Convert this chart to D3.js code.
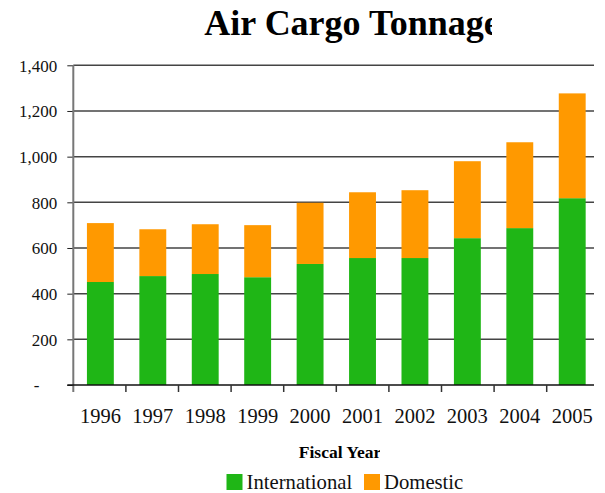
<!DOCTYPE html>
<html><head><meta charset="utf-8">
<script src="https://cdn.jsdelivr.net/npm/d3@7"></script>
<style>body{margin:0;background:#fff}</style>
</head><body>
<svg id="c" width="605" height="493"></svg>
<script>
const years = ["1996","1997","1998","1999","2000","2001","2002","2003","2004","2005"];
const international = [451, 477, 486, 472, 530, 556, 556, 643, 687, 818];
const domestic = [258, 205, 218, 228, 268, 288, 297, 337, 376, 459];
const yTicks = [0, 200, 400, 600, 800, 1000, 1200, 1400];
const seriesNames = ["International", "Domestic"];
const colors = ["#1FB616", "#FF9900"];

const svg = d3.select("#c");
const font = "'Liberation Serif','Times New Roman',serif";
const L = 73.3, T = 65.3, B = 385, gridR = 594;
const x = d3.scaleBand().domain(years).range([L, L + 52.6 * 10]).paddingInner(0.487).paddingOuter(0.26);
const y = d3.scaleLinear().domain([0, 1400]).range([B, T]);

const defs = svg.append("defs");
defs.append("clipPath").attr("id", "tclip").append("rect").attr("x", 0).attr("y", 0).attr("width", 492).attr("height", 60);
defs.append("clipPath").attr("id", "fclip").append("rect").attr("x", 0).attr("y", 430).attr("width", 380).attr("height", 40);

svg.append("text").attr("clip-path", "url(#tclip)")
  .attr("x", 352).attr("y", 35).attr("text-anchor", "middle")
  .style("font-family", font).style("font-weight", "bold").style("font-size", "36px")
  .text("Air Cargo Tonnage");

// gridlines
svg.append("g").selectAll("line").data(yTicks.filter(d => d > 0)).join("line")
  .attr("x1", L).attr("x2", gridR).attr("y1", d => y(d)).attr("y2", d => y(d))
  .attr("stroke", "#444").attr("stroke-width", 1.5);

// stacked bars
const rows = years.map((yr, i) => ({year: yr, International: international[i], Domestic: domestic[i]}));
const stack = d3.stack().keys(seriesNames)(rows);
svg.append("g").selectAll("g").data(stack).join("g").attr("fill", (d, i) => colors[i])
  .selectAll("rect").data(d => d).join("rect")
  .attr("x", d => x(d.data.year)).attr("width", x.bandwidth())
  .attr("y", d => y(d[1])).attr("height", d => y(d[0]) - y(d[1]));

// y axis
const yAxis = svg.append("g").attr("transform", `translate(${L},0)`)
  .call(d3.axisLeft(y).tickValues(yTicks).tickSize(6).tickPadding(10)
    .tickFormat(d => d === 0 ? "-" : d3.format(",")(d)));
yAxis.select(".domain").remove();
yAxis.selectAll(".tick line").attr("stroke", "#222");
yAxis.selectAll(".tick text").style("font-family", font).style("font-size", "17px").attr("fill", "#111")
  .attr("dx", d => d === 0 ? -18 : 0).attr("dy", "0.35em");
svg.append("line").attr("x1", L).attr("x2", L).attr("y1", T).attr("y2", B + 7)
  .attr("stroke", "#777").attr("stroke-width", 2);

// x axis
svg.append("line").attr("x1", L - 6).attr("x2", gridR).attr("y1", B).attr("y2", B).attr("stroke", "#111").attr("stroke-width", 1.5);
const xt = d3.range(1, 10).map(i => L + 52.6 * i);
svg.append("g").selectAll("line").data(xt).join("line")
  .attr("x1", d => d).attr("x2", d => d).attr("y1", B).attr("y2", B + 7).attr("stroke", "#333").attr("stroke-width", 1.5);
svg.append("g").selectAll("text").data(years).join("text")
  .attr("x", d => x(d) + x.bandwidth() / 2).attr("y", 423).attr("text-anchor", "middle")
  .style("font-family", font).style("font-size", "20.5px").attr("fill", "#111").text(d => d);

svg.append("text").attr("clip-path", "url(#fclip)")
  .attr("x", 340).attr("y", 458).attr("text-anchor", "middle")
  .style("font-family", font).style("font-weight", "bold").style("font-size", "17.5px").text("Fiscal Year");

// legend
const leg = [{x: 226.5, name: seriesNames[0], c: colors[0]}, {x: 364, name: seriesNames[1], c: colors[1]}];
const lg = svg.append("g").selectAll("g").data(leg).join("g");
lg.append("rect").attr("x", d => d.x).attr("y", 474).attr("width", 16).attr("height", 16).attr("fill", d => d.c);
lg.append("text").attr("x", d => d.x + 20).attr("y", 489)
  .style("font-family", font).style("font-size", "20.7px").attr("fill", "#111").text(d => d.name);
</script>
</body></html>
